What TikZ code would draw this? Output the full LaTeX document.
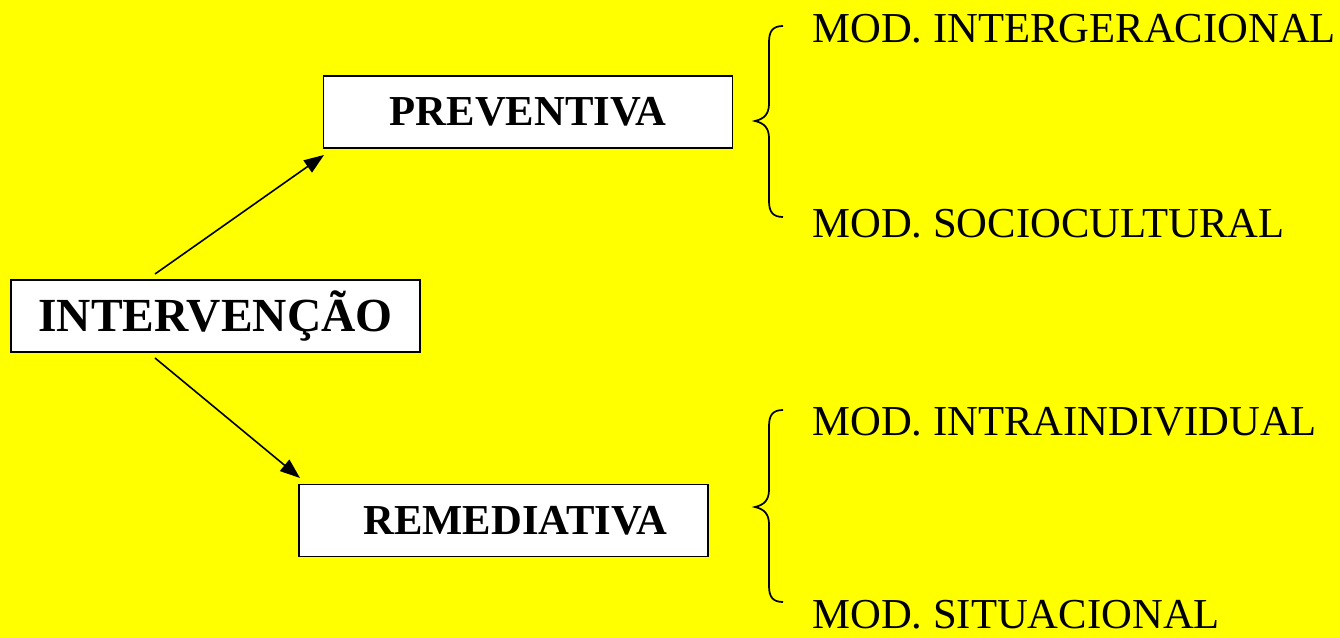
\documentclass[tikz,border=0pt]{standalone}
\usepackage{fontspec}
\setmainfont{Liberation Serif}
\usetikzlibrary{arrows.meta}
\definecolor{bgyellow}{RGB}{255,255,0}
\tikzset{
  boxnode/.style={draw=black, line width=1.4pt, fill=white, minimum width=306.75pt, minimum height=54pt, inner sep=0pt, font=\fontsize{32}{36}\selectfont\bfseries},
  modtext/.style={anchor=base west, inner sep=0pt, font=\fontsize{32}{36}\selectfont},
  arrowline/.style={line width=1.2pt, -{Triangle[length=15pt,width=11pt]}},
  bracepath/.style={line width=1.3pt}
}
\begin{document}
\begin{tikzpicture}[x=0.75pt, y=-0.75pt]
\fill[bgyellow] (0,0) rectangle (1340,638);
\useasboundingbox (0,0) rectangle (1340,638);

\node[boxnode, font=\fontsize{35.6}{40}\selectfont\bfseries] (int) at (215.5,316) {INTERVENÇÃO};
\node[boxnode] (prev) at (528,112) {PREVENTIVA};
\node[boxnode] (rem) at (503.5,520.5) {\kern18pt REMEDIATIVA};

\coordinate (upstart) at (155,274);
\coordinate (upend) at (324,155);
\coordinate (downstart) at (155,358);
\coordinate (downend) at (300,478);
\draw[arrowline] (upstart) -- (upend);
\draw[arrowline] (downstart) -- (downend);

\node[modtext] (m1) at (812,43) {MOD. INTERGERACIONAL};
\node[modtext] (m2) at (812,238) {MOD. SOCIOCULTURAL};
\node[modtext] (m3) at (812,435) {MOD. INTRAINDIVIDUAL};
\node[modtext] (m4) at (812,628) {MOD. SITUACIONAL};

\draw[bracepath] (783,26) .. controls (773,26) and (769,31) .. (769,42)
  -- (769,104) .. controls (769,114) and (764,119) .. (755,121)
  .. controls (764,123) and (769,128) .. (769,138)
  -- (769,201) .. controls (769,212) and (773,217) .. (783,217);
\draw[bracepath] (783,410) .. controls (773,410) and (769,415) .. (769,426)
  -- (769,490) .. controls (769,500) and (764,505) .. (755,507)
  .. controls (764,509) and (769,514) .. (769,524)
  -- (769,586) .. controls (769,597) and (773,602) .. (783,602);
\end{tikzpicture}
\end{document}
